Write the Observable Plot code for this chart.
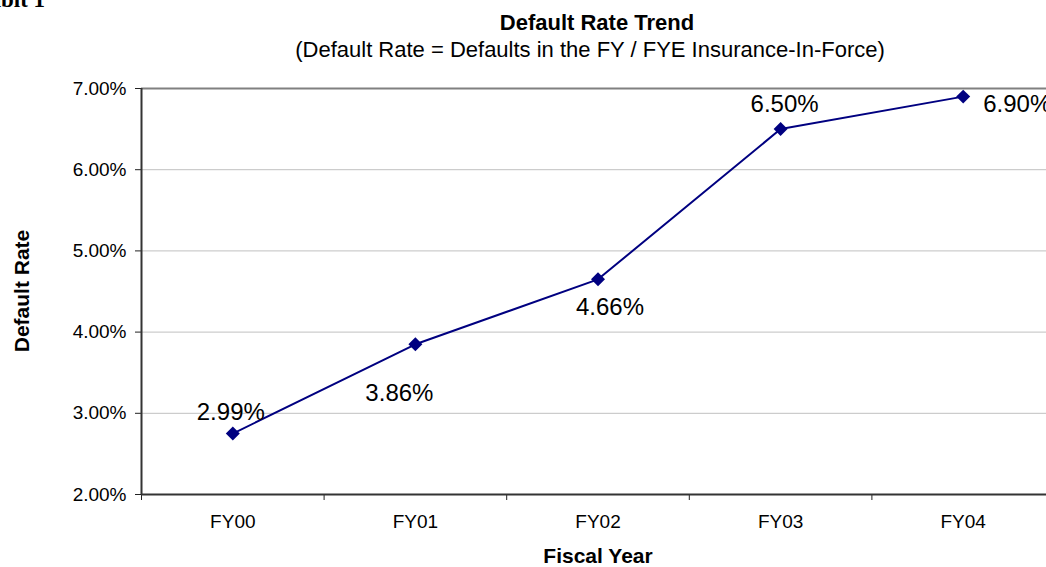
<!DOCTYPE html>
<html>
<head>
<meta charset="utf-8">
<script src="https://cdn.jsdelivr.net/npm/d3@7"></script>
<script src="https://cdn.jsdelivr.net/npm/@observablehq/plot@0.6"></script>
<style>
html, body { margin: 0; padding: 0; background: #fff; }
#wrap { position: relative; width: 1046px; height: 567px; overflow: hidden; font-family: "Liberation Sans", Arial, sans-serif; color: #000; background: #fff; }
.t { position: absolute; white-space: nowrap; line-height: 1; }
#exhibit { left: -45px; top: -12px; font-family: "Liberation Serif", "Times New Roman", serif; font-weight: bold; font-size: 23px; }
#title { left: 597px; top: 12px; transform: translateX(-50%); font-weight: bold; font-size: 22px; }
#subtitle { left: 590px; top: 39px; transform: translateX(-50%); font-size: 22px; }
#ylabel { left: 21px; top: 291px; transform: translate(-50%, -50%) rotate(-90deg); font-weight: bold; font-size: 21px; }
#xlabel { left: 598px; top: 545px; transform: translateX(-50%); font-weight: bold; font-size: 21px; }
#chart svg { position: absolute; left: 0; top: 0; max-width: none !important; }
</style>
</head>
<body>
<div id="wrap">
  <div id="chart"></div>
  <div class="t" id="exhibit">Exhibit 1</div>
  <div class="t" id="title">Default Rate Trend</div>
  <div class="t" id="subtitle">(Default Rate = Defaults in the FY / FYE Insurance-In-Force)</div>
  <div class="t" id="ylabel">Default Rate</div>
  <div class="t" id="xlabel">Fiscal Year</div>
</div>
<script>
// Data
const categories = ["FY00", "FY01", "FY02", "FY03", "FY04"];
const rates = [2.75, 3.85, 4.65, 6.50, 6.90];          // plotted positions (%)
const rateLabels = ["2.99%", "3.86%", "4.66%", "6.50%", "6.90%"]; // data labels as printed
const yTicks = [2, 3, 4, 5, 6, 7];

const rows = categories.map((c, i) => ({fy: c, i, rate: rates[i], label: rateLabels[i]}));
const pick = fy => rows.filter(d => d.fy === fy);
const navy = "#000080";
const boundaries = d3.range(-0.5, categories.length, 1);

const chart = Plot.plot({
  width: 1100,
  height: 567,
  marginLeft: 141,
  marginRight: 46,
  marginTop: 88,
  marginBottom: 73,
  style: {fontFamily: '"Liberation Sans", Arial, sans-serif', fontSize: "19px", color: "#000", background: "transparent", maxWidth: "none"},
  x: {type: "linear", domain: [-0.5, categories.length - 0.5], label: null},
  y: {domain: [2, 7], label: null},
  marks: [
    Plot.gridY(yTicks.filter(v => v > 2 && v < 7), {stroke: "#c0c0c0", strokeOpacity: 1, strokeWidth: 1}),
    Plot.ruleY([7], {stroke: "#808080", strokeWidth: 2}),
    Plot.axisY(yTicks, {tickSize: 6, tickPadding: 9, tickFormat: d => d.toFixed(2) + "%", fontSize: 19, label: null, stroke: "#222"}),
    Plot.axisX(boundaries, {tickSize: 6, tickFormat: () => "", label: null, stroke: "#222"}),
    Plot.axisX(categories.map((c, i) => i), {tickSize: 0, tickPadding: 20, tickFormat: i => categories[i], fontSize: 19, label: null}),
    Plot.ruleX([-0.5], {stroke: "#333", strokeWidth: 2}),
    Plot.ruleY([2], {stroke: "#333", strokeWidth: 2}),
    Plot.line(rows, {x: "i", y: "rate", stroke: navy, strokeWidth: 2}),
    Plot.dot(rows, {x: "i", y: "rate", symbol: "diamond2", r: 6.3, fill: navy}),
    Plot.text(pick("FY00"), {x: "i", y: "rate", text: "label", dx: -2, dy: -21, fontSize: 24}),
    Plot.text(pick("FY01"), {x: "i", y: "rate", text: "label", dx: -16, dy: 49, fontSize: 24}),
    Plot.text(pick("FY02"), {x: "i", y: "rate", text: "label", dx: 12, dy: 28, fontSize: 24}),
    Plot.text(pick("FY03"), {x: "i", y: "rate", text: "label", dx: 4, dy: -25, fontSize: 24}),
    Plot.text(pick("FY04"), {x: "i", y: "rate", text: "label", dx: 20, dy: 8, fontSize: 24, textAnchor: "start"})
  ]
});
chart.style.maxWidth = "none";
document.getElementById("chart").appendChild(chart);
</script>
</body>
</html>
